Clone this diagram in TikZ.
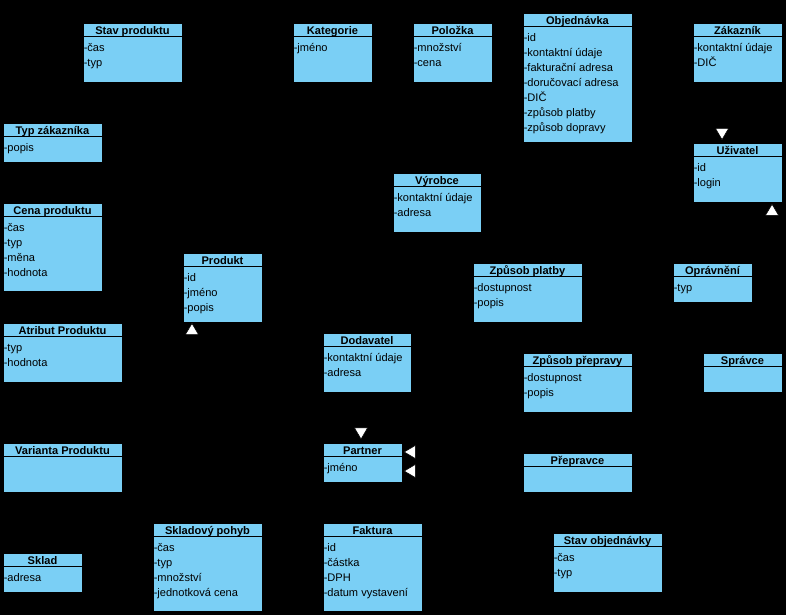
\documentclass[tikz,border=0pt]{standalone}
\usepackage{fontspec}
\setmainfont{Liberation Sans}
\usetikzlibrary{fit,arrows.meta}
\definecolor{umlblue}{RGB}{122,207,245}
\tikzset{
  cls/.style={draw=black, fill=umlblue, line width=0.75pt, inner sep=0pt},
  ttl/.style={anchor=base, inner sep=0pt, font=\bfseries\fontsize{8.3}{10}\selectfont},
  att/.style={anchor=base west, inner sep=0pt, font=\fontsize{8.3}{10}\selectfont},
  gen/.style={draw=black, line width=0.75pt, -{Triangle[width=10.5pt,length=9pt,line width=0.4pt,fill=white]}}
}
\newcommand{\umlbox}[6]{%
  \node[cls, fit={(#2,#3) (#4,#5)}] (#1) {};
  \draw[line width=0.75pt] ([yshift=-10.5pt]#1.north west) -- ([yshift=-10.5pt]#1.north east);
  \path (#1.north) ++(0,11.8) node[ttl] {#6};
}
\newcommand{\umlattr}[3]{\path (#1.north west) ++(1,{13.8+15*#2}) node[att] {#3};}
\begin{document}
\begin{tikzpicture}[x=0.75pt, y=-0.75pt]
\fill[black] (0,0) rectangle (786,615);
\useasboundingbox (0,0) rectangle (786,615);

\umlbox{stavprod}{83}{23}{182}{82}{Stav produktu}
\umlattr{stavprod}{1}{-čas}
\umlattr{stavprod}{2}{-typ}

\umlbox{kategorie}{293}{23}{372}{82}{Kategorie}
\umlattr{kategorie}{1}{-jméno}

\umlbox{polozka}{413}{23}{492}{82}{Položka}
\umlattr{polozka}{1}{-množství}
\umlattr{polozka}{2}{-cena}

\umlbox{objednavka}{523}{13}{632}{142}{Objednávka}
\umlattr{objednavka}{1}{-id}
\umlattr{objednavka}{2}{-kontaktní údaje}
\umlattr{objednavka}{3}{-fakturační adresa}
\umlattr{objednavka}{4}{-doručovací adresa}
\umlattr{objednavka}{5}{-DIČ}
\umlattr{objednavka}{6}{-způsob platby}
\umlattr{objednavka}{7}{-způsob dopravy}

\umlbox{zakaznik}{693}{23}{782}{82}{Zákazník}
\umlattr{zakaznik}{1}{-kontaktní údaje}
\umlattr{zakaznik}{2}{-DIČ}

\umlbox{typzak}{3}{123}{102}{162}{Typ zákazníka}
\umlattr{typzak}{1}{-popis}

\umlbox{uzivatel}{693}{143}{782}{202}{Uživatel}
\umlattr{uzivatel}{1}{-id}
\umlattr{uzivatel}{2}{-login}

\umlbox{vyrobce}{393}{173}{481}{232}{Výrobce}
\umlattr{vyrobce}{1}{-kontaktní údaje}
\umlattr{vyrobce}{2}{-adresa}

\umlbox{cenaprod}{3}{203}{102}{291}{Cena produktu}
\umlattr{cenaprod}{1}{-čas}
\umlattr{cenaprod}{2}{-typ}
\umlattr{cenaprod}{3}{-měna}
\umlattr{cenaprod}{4}{-hodnota}

\umlbox{produkt}{183}{253}{262}{322}{Produkt}
\umlattr{produkt}{1}{-id}
\umlattr{produkt}{2}{-jméno}
\umlattr{produkt}{3}{-popis}

\umlbox{zpplatby}{473}{263}{582}{322}{Způsob platby}
\umlattr{zpplatby}{1}{-dostupnost}
\umlattr{zpplatby}{2}{-popis}

\umlbox{opravneni}{673}{263}{752}{302}{Oprávnění}
\umlattr{opravneni}{1}{-typ}

\umlbox{atribut}{3}{323}{122}{382}{Atribut Produktu}
\umlattr{atribut}{1}{-typ}
\umlattr{atribut}{2}{-hodnota}

\umlbox{dodavatel}{323}{333}{411}{392}{Dodavatel}
\umlattr{dodavatel}{1}{-kontaktní údaje}
\umlattr{dodavatel}{2}{-adresa}

\umlbox{zpprepravy}{523}{353}{632}{412}{Způsob přepravy}
\umlattr{zpprepravy}{1}{-dostupnost}
\umlattr{zpprepravy}{2}{-popis}

\umlbox{spravce}{703}{353}{782}{392}{Správce}

\umlbox{varianta}{3}{443}{122}{492}{Varianta Produktu}

\umlbox{partner}{323}{443}{402}{482}{Partner}
\umlattr{partner}{1}{-jméno}

\umlbox{prepravce}{523}{453}{632}{492}{Přepravce}

\umlbox{skladpohyb}{153}{523}{262}{611}{Skladový pohyb}
\umlattr{skladpohyb}{1}{-čas}
\umlattr{skladpohyb}{2}{-typ}
\umlattr{skladpohyb}{3}{-množství}
\umlattr{skladpohyb}{4}{-jednotková cena}

\umlbox{faktura}{323}{523}{422}{611}{Faktura}
\umlattr{faktura}{1}{-id}
\umlattr{faktura}{2}{-částka}
\umlattr{faktura}{3}{-DPH}
\umlattr{faktura}{4}{-datum vystavení}

\umlbox{sklad}{3}{553}{82}{592}{Sklad}
\umlattr{sklad}{1}{-adresa}

\umlbox{stavobj}{553}{533}{662}{592}{Stav objednávky}
\umlattr{stavobj}{1}{-čas}
\umlattr{stavobj}{2}{-typ}

% generalizations (black lines on black background; only the white heads show)
\draw[gen, shorten >=1.8pt] ([xshift=-11.6pt]zakaznik.south) -- ([xshift=-11.6pt]uzivatel.north);
\draw[gen, shorten >=0.9pt] ([xshift=22.1pt]spravce.north) -- ([xshift=25.9pt]uzivatel.south);
\path ([xshift=-22.9pt]produkt.south) coordinate (prodin);
\draw[gen, shorten >=0.3pt] (varianta.east) -| (prodin);
\path ([xshift=-1.1pt]partner.north) coordinate (partin);
\draw[gen, shorten >=2.2pt] (dodavatel.south -| partin) -- (partin);
\path ([yshift=7.9pt]partner.east) coordinate (partv);
\draw[gen, shorten >=0.9pt] (vyrobce.south) |- (partv);
\path ([yshift=-6.4pt]partner.east) coordinate (partp);
\draw[gen, shorten >=0.9pt] (partp -| prepravce.west) -- (partp);
\end{tikzpicture}
\end{document}
